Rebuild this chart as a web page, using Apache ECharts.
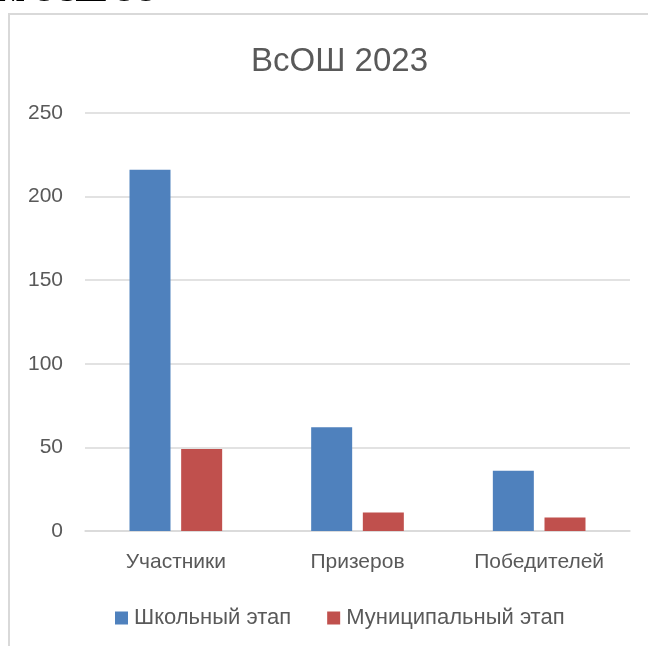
<!DOCTYPE html>
<html>
<head>
<meta charset="utf-8">
<script src="https://cdn.jsdelivr.net/npm/echarts@6/dist/echarts.min.js"></script>
<style>
html,body{margin:0;padding:0;background:#fff;}
#c{width:648px;height:646px;}
</style>
</head>
<body>
<div id="c"></div>
<script>
const titleText = 'ВсОШ 2023';
const categories = ['Участники', 'Призеров', 'Победителей'];
const seriesNames = ['Школьный этап', 'Муниципальный этап'];
const schoolStage = [216, 62, 36];
const municipalStage = [49, 11, 8];
const yTicks = [0, 50, 100, 150, 200, 250];
const headerFragment = '№ ОСШ ОО';

const FONT = 'Liberation Sans';
const chart = echarts.init(document.getElementById('c'), null, {renderer: 'canvas'});
chart.setOption({
  backgroundColor: '#ffffff',
  animation: false,
  title: {
    text: titleText,
    left: 246,
    top: 40,
    textStyle: {fontFamily: FONT, fontSize: 33, fontWeight: 'normal', color: '#595959'}
  },
  graphic: [
    {type: 'rect', shape: {x: 9, y: 14, width: 700, height: 700},
     style: {fill: 'none', stroke: '#d9d9d9', lineWidth: 2}, silent: true},
    {type: 'text', x: -2, y: 8,
     style: {text: headerFragment, font: 'bold 28px "Liberation Serif"', fill: '#000',
             textVerticalAlign: 'bottom', textBaseline: 'bottom'}, silent: true}
  ],
  legend: {
    bottom: 12,
    left: 110,
    itemWidth: 13,
    itemHeight: 13,
    itemGap: 36,
    icon: 'rect',
    textStyle: {fontFamily: FONT, fontSize: 22, color: '#595959', padding: [0, 0, 0, 1]},
    data: seriesNames
  },
  grid: {left: 85, right: 18, top: 113, bottom: 115},
  xAxis: {
    type: 'category',
    data: categories,
    axisLine: {show: true, lineStyle: {color: '#d9d9d9', width: 1.5}},
    axisTick: {show: false},
    axisLabel: {fontFamily: FONT, fontSize: 21, color: '#595959', margin: 21}
  },
  yAxis: {
    type: 'value',
    min: yTicks[0],
    max: yTicks[yTicks.length - 1],
    interval: 50,
    axisLine: {show: false},
    axisTick: {show: false},
    axisLabel: {fontFamily: FONT, fontSize: 21, color: '#595959', margin: 22},
    splitLine: {lineStyle: {color: '#d9d9d9', width: 1.5}}
  },
  series: [
    {name: seriesNames[0], type: 'bar', data: schoolStage,
     itemStyle: {color: '#4f81bd'}, barWidth: 41, barGap: '26%'},
    {name: seriesNames[1], type: 'bar', data: municipalStage,
     itemStyle: {color: '#c0504d'}, barWidth: 41}
  ]
});
</script>
</body>
</html>
